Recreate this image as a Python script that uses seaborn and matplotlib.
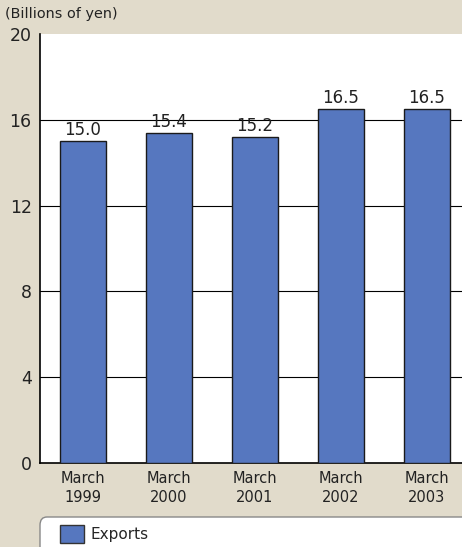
import matplotlib
matplotlib.use('Agg')
import matplotlib.pyplot as plt
import seaborn as sns
from matplotlib.patches import FancyBboxPatch, Patch

# Chart data
periods = ['March\n1999', 'March\n2000', 'March\n2001', 'March\n2002', 'March\n2003']
exports = [15.0, 15.4, 15.2, 16.5, 16.5]
y_ticks = [0, 4, 8, 12, 16, 20]
grid_levels = [4, 8, 12, 16]

bg_color = '#e1dbcb'
bar_color = '#5677bf'
text_color = '#222222'

sns.set_style('white')
plt.rcParams['font.family'] = ['DejaVu Sans']

fig = plt.figure(figsize=(4.62, 5.47), dpi=100)
fig.patch.set_facecolor(bg_color)
ax = fig.add_axes([40 / 462, 1 - 463 / 547, 1 - 40 / 462, (463 - 34) / 547])
ax.set_facecolor('white')

# horizontal guide lines (none at the top)
for g in grid_levels:
    ax.axhline(g, color='black', linewidth=0.8, zorder=0)

sns.barplot(x=periods, y=exports, color=bar_color, edgecolor='#1a1a1a',
            linewidth=1.0, width=0.535, saturation=1, ax=ax, zorder=3)

for c in ax.containers:
    ax.bar_label(c, labels=[f'{v:.1f}' for v in exports], padding=1.5,
                 fontsize=12, color=text_color)

ax.set_ylim(0, 20)
ax.set_xlim(-0.5, 4.41)
ax.set_yticks(y_ticks)
ax.set_yticklabels([str(t) for t in y_ticks], fontsize=12.5, color=text_color)
ax.tick_params(axis='y', length=0, pad=6)
ax.tick_params(axis='x', length=0, pad=6)
for lbl in ax.get_xticklabels():
    lbl.set_fontsize(10.5)
    lbl.set_color(text_color)
    lbl.set_linespacing(1.3)
ax.grid(False)
ax.set_xlabel('')
ax.set_ylabel('')

for side in ['top', 'right']:
    ax.spines[side].set_visible(False)
for side in ['left', 'bottom']:
    ax.spines[side].set_color('black')
    ax.spines[side].set_linewidth(1.2)

fig.text(5 / 462, 1 - 18 / 547, '(Billions of yen)', fontsize=10.4,
         color=text_color, va='baseline', ha='left')

# Legend panel
panel = FancyBboxPatch((40 / 462, -0.05), 1.0, 0.05 + 30 / 547,
                       boxstyle='round,pad=0,rounding_size=0.015',
                       transform=fig.transFigure, facecolor='white',
                       edgecolor='#888888', linewidth=1.0)
fig.patches.append(panel)
fig.legend(handles=[Patch(facecolor=bar_color, edgecolor='#333333', label='Exports')],
           loc='center left', bbox_to_anchor=(60 / 462, 1 - 534 / 547),
           frameon=False, fontsize=11, handlelength=1.55, handleheight=1.5,
           handletextpad=0.45, borderpad=0, borderaxespad=0)

fig.savefig('out.png', dpi=100, facecolor=bg_color)
